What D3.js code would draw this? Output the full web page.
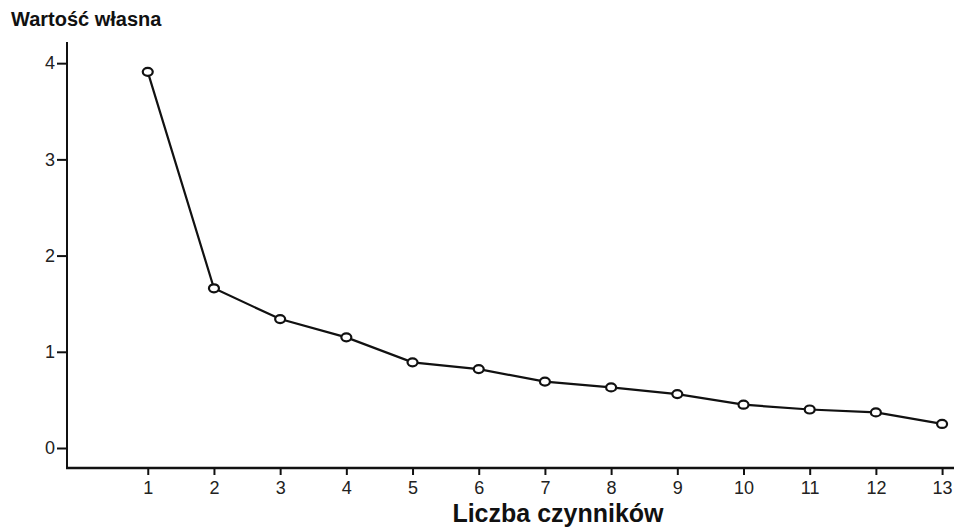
<!DOCTYPE html>
<html>
<head>
<meta charset="utf-8">
<script src="https://cdn.jsdelivr.net/npm/d3@7"></script>
<style>
  body { margin: 0; background: white; }
  svg { display: block; }
  text { font-family: "Liberation Sans", Arial, sans-serif; }
</style>
</head>
<body>
<svg id="chart" width="954" height="529"></svg>
<script>
// factor number vs eigenvalue (scree plot)
var factors = [1, 2, 3, 4, 5, 6, 7, 8, 9, 10, 11, 12, 13];
var eigenvalues = [3.91, 1.66, 1.34, 1.15, 0.89, 0.82, 0.69, 0.63, 0.56, 0.45, 0.40, 0.37, 0.25];
var yTicks = [0, 1, 2, 3, 4];

var svg = d3.select("#chart");

var x = d3.scaleLinear().domain([-0.22, 13.18]).range([67, 954]);
var y = d3.scaleLinear().domain([0, 4.22]).range([448, 42]);
var axisY = 468;

// y axis
var gy = svg.append("g").attr("transform", "translate(67,0)")
  .call(d3.axisLeft(y).tickValues(yTicks).tickSize(10).tickPadding(2).tickFormat(d3.format("d")));
gy.select(".domain").remove();
gy.append("line").attr("x1", 0).attr("x2", 0).attr("y1", 42).attr("y2", axisY + 1)
  .attr("stroke", "#111").attr("stroke-width", 2);

// x axis
var gx = svg.append("g").attr("transform", "translate(0," + axisY + ")")
  .call(d3.axisBottom(x).tickValues(factors).tickSize(7).tickPadding(6).tickFormat(d3.format("d")));
gx.select(".domain").remove();
gx.append("line").attr("x1", 66).attr("x2", 954).attr("y1", 0).attr("y2", 0)
  .attr("stroke", "#111").attr("stroke-width", 2.5);

svg.selectAll("g").attr("font-size", null).attr("font-family", null);
svg.selectAll(".tick line").attr("stroke", "#111").attr("stroke-width", 2);
svg.selectAll(".tick text").attr("fill", "#222").attr("font-size", 18)
  .attr("font-family", "'Liberation Sans', Arial, sans-serif");

// line
var line = d3.line()
  .x(function(d, i) { return x(factors[i]); })
  .y(function(d) { return y(d); });

svg.append("path").datum(eigenvalues)
  .attr("d", line)
  .attr("fill", "none")
  .attr("stroke", "#111")
  .attr("stroke-width", 2.2);

// markers
svg.selectAll(".pt").data(eigenvalues).enter().append("ellipse")
  .attr("class", "pt")
  .attr("cx", function(d, i) { return x(factors[i]); })
  .attr("cy", function(d) { return y(d); })
  .attr("rx", 5).attr("ry", 4)
  .attr("fill", "white")
  .attr("stroke", "#111")
  .attr("stroke-width", 2.2);

// titles
svg.append("text").attr("x", 11).attr("y", 26)
  .attr("font-size", 20).attr("font-weight", "bold").attr("fill", "#111")
  .text("Wartość własna");

svg.append("text").attr("x", 558).attr("y", 522).attr("text-anchor", "middle")
  .attr("font-size", 25).attr("font-weight", "bold").attr("fill", "#111")
  .text("Liczba czynników");
</script>
</body>
</html>
